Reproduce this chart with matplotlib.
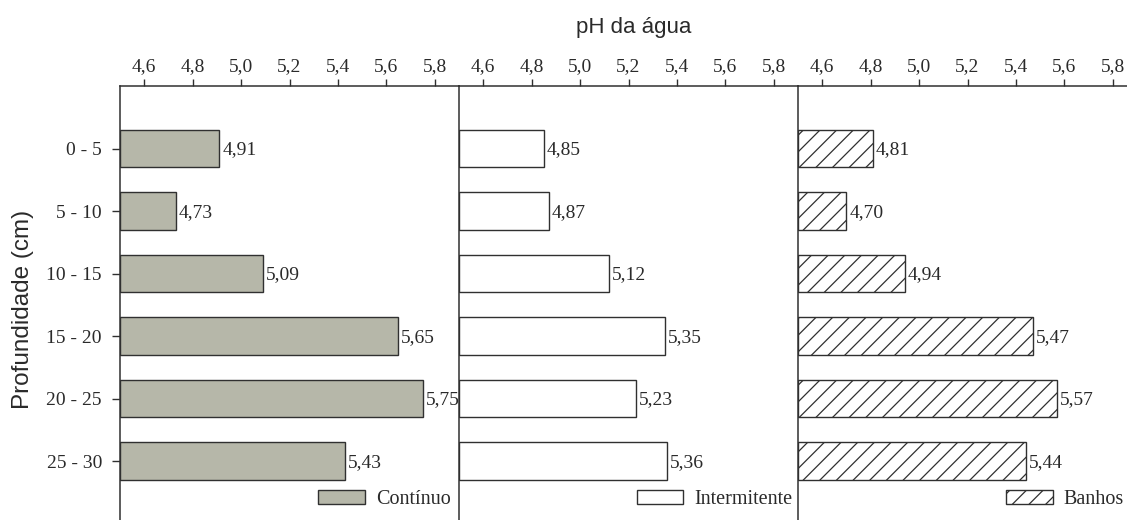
import matplotlib
matplotlib.use("Agg")
import matplotlib.pyplot as plt

depths = ["0 - 5", "5 - 10", "10 - 15", "15 - 20", "20 - 25", "25 - 30"]
continuo = [4.91, 4.73, 5.09, 5.65, 5.75, 5.43]
intermitente = [4.85, 4.87, 5.12, 5.35, 5.23, 5.36]
banhos = [4.81, 4.70, 4.94, 5.47, 5.57, 5.44]
series_names = ["Contínuo", "Intermitente", "Banhos"]
xticks = [4.6, 4.8, 5.0, 5.2, 5.4, 5.6, 5.8]
xtick_labels = ["4,6", "4,8", "5,0", "5,2", "5,4", "5,6", "5,8"]

W, H = 1127, 520
fig = plt.figure(figsize=(W / 100, H / 100), dpi=100)
plt.rcParams["hatch.linewidth"] = 0.9

serif = "Liberation Serif"
sans = "Liberation Sans"
dark = "#2a2a2a"

styles = [
    dict(facecolor="#b6b7a9", hatch=None),
    dict(facecolor="white", hatch=None),
    dict(facecolor="white", hatch="//"),
]
legend_x = [0.975, 0.984, 0.962]

top_px, bot_px = 86, 530
panel_w = 339
all_series = [continuo, intermitente, banhos]
ypos = list(range(len(depths)))

for i, (vals, name, st) in enumerate(zip(all_series, series_names, styles)):
    left_px = 120 + i * panel_w
    ax = fig.add_axes([left_px / W, 1 - bot_px / H, panel_w / W, (bot_px - top_px) / H])
    ax.set_xlim(4.5, 5.9)
    ax.set_ylim(6.1, -1.0)
    base = 4.5
    ax.barh(ypos, [v - base for v in vals], left=base, height=0.6,
            color=st["facecolor"], edgecolor="#303030", linewidth=1.0,
            hatch=st["hatch"], label=name)
    for y, v in zip(ypos, vals):
        ax.text(v + 0.012, y + 0.02, f"{v:.2f}".replace(".", ","), ha="left", va="center",
                fontsize=14, family=serif, color=dark, clip_on=False)
    ax.xaxis.tick_top()
    ax.set_xticks(xticks)
    ax.set_xticklabels(xtick_labels, family=serif, fontsize=14, color=dark)
    ax.tick_params(axis="x", direction="out", length=5, width=1, color="#303030", pad=3)
    for s in ["right", "bottom"]:
        ax.spines[s].set_visible(False)
    for s in ["top", "left"]:
        ax.spines[s].set_color("#303030")
        ax.spines[s].set_linewidth(1.1)
    if i == 0:
        ax.set_yticks(ypos)
        ax.set_yticklabels(depths, family=serif, fontsize=14, color=dark)
        ax.tick_params(axis="y", direction="out", length=6, width=1, color="#303030", pad=7)
    else:
        ax.set_yticks([])
    leg = ax.legend(loc="center right", bbox_to_anchor=(legend_x[i], 0.068),
                    frameon=False, borderpad=0, borderaxespad=0,
                    handlelength=2.3, handleheight=0.7, handletextpad=0.55,
                    prop={"family": serif, "size": 14.5})
    for t in leg.get_texts():
        t.set_color(dark)
    ax.patch.set_alpha(0)

fig.text(634 / W, 1 - 28 / H, "pH da água", ha="center", va="center",
         fontsize=16, family=sans, color=dark)
fig.text(23 / W, 1 - 309 / H, "Profundidade (cm)", ha="center", va="center",
         rotation=90, fontsize=17.5, family=sans, color=dark)

fig.savefig("out.png", dpi=100, facecolor="white")
